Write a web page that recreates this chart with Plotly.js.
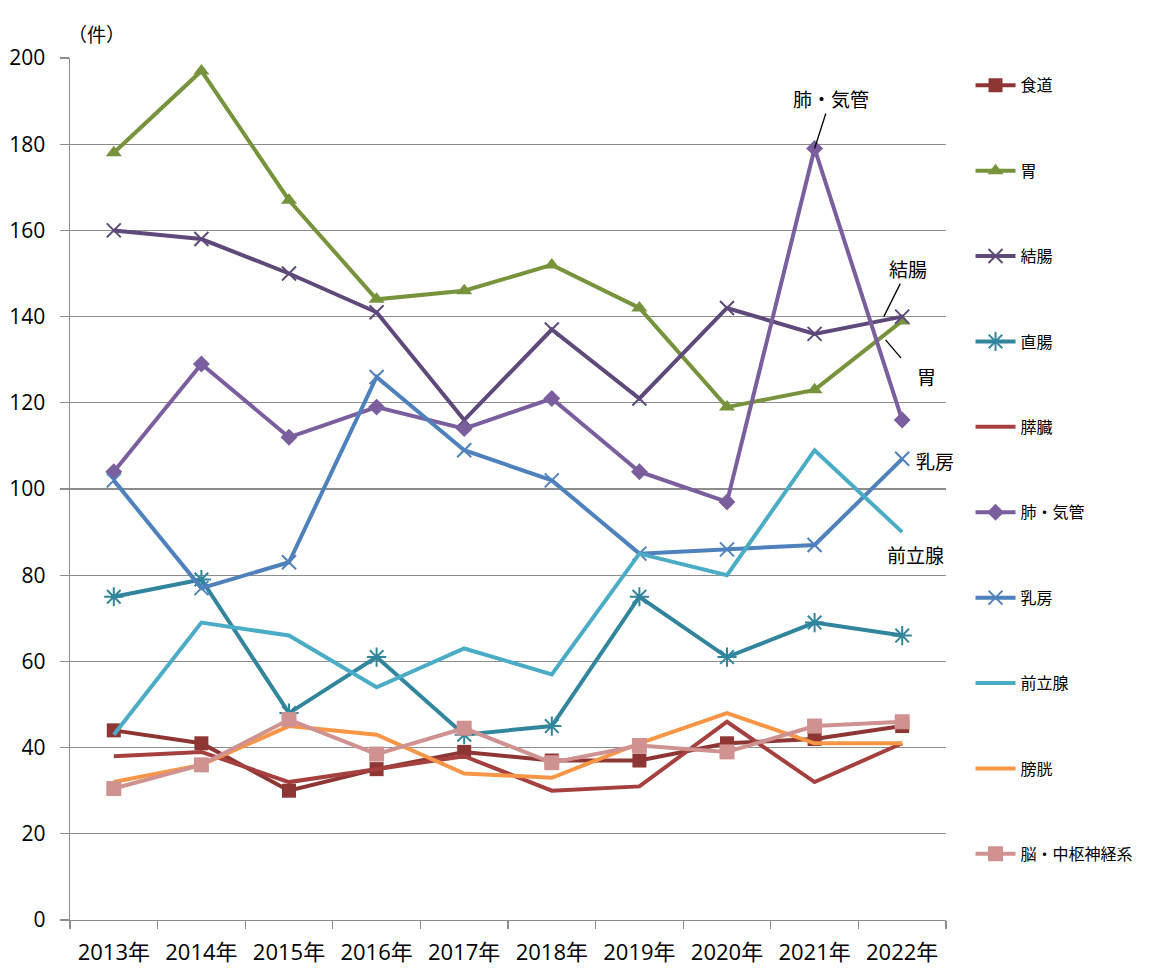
<!DOCTYPE html>
<html>
<head>
<meta charset="utf-8">
<script src="https://cdn.plot.ly/plotly-3.0.1.min.js"></script>
<style>html,body{margin:0;padding:0;background:#fff;}#chart{width:1156px;height:969px;}</style>
</head>
<body>
<div id="chart"></div>
<script>
const years = ["2013年","2014年","2015年","2016年","2017年","2018年","2019年","2020年","2021年","2022年"];

const shokudo   = [44, 41, 30, 35, 39, 37, 37, 41, 42, 45];
const i_stomach = [178, 197, 167, 144, 146, 152, 142, 119, 123, 139];
const ketcho    = [160, 158, 150, 141, 116, 137, 121, 142, 136, 140];
const chokucho  = [75, 79, 48, 61, 43, 45, 75, 61, 69, 66];
const suizo     = [38, 39, 32, 35, 38, 30, 31, 46, 32, 41];
const hai       = [104, 129, 112, 119, 114, 121, 104, 97, 179, 116];
const nyubo     = [102, 77, 83, 126, 109, 102, 85, 86, 87, 107];
const zenritsu  = [43, 69, 66, 54, 63, 57, 85, 80, 109, 90];
const boko      = [32, 36, 45, 43, 34, 33, 41, 48, 41, 41];
const nou       = [30.5, 36, 46.5, 38.5, 44.5, 36.5, 40.5, 39, 45, 46];

const names = ["食道","胃","結腸","直腸","膵臓","肺・気管","乳房","前立腺","膀胱","脳・中枢神経系"];
const yTicks = [0,20,40,60,80,100,120,140,160,180,200];

const FONT = "'Open Sans', 'Noto Sans CJK JP', sans-serif";
const JFONT = "'Noto Sans CJK JP', 'Open Sans', sans-serif";

function tr(name, y, color, symbol, size, open, grp) {
  const t = {
    type: "scatter", x: years, y: y, name: name,
    legendgroup: grp,
    line: {color: color, width: 4},
    cliponaxis: false
  };
  if (symbol) {
    t.mode = "lines+markers";
    t.marker = open
      ? {symbol: symbol, size: size, color: color, line: {color: color, width: 2}}
      : {symbol: symbol, size: size, color: color, line: {width: 0}};
  } else {
    t.mode = "lines";
  }
  return t;
}

const data = [
  tr(names[0], shokudo,   "#8E3634", "square", 14, false, "g0"),
  tr(names[1], i_stomach, "#77933C", "triangle-up", 14, false, "g1"),
  tr(names[2], ketcho,    "#5F497A", "x-thin-open", 14, true, "g2"),
  tr(names[3], chokucho,  "#31859C", "asterisk-open", 16, true, "g3"),
  tr(names[4], suizo,     "#A5403E", null, 0, false, "g4"),
  tr(names[5], hai,       "#7B5E9E", "diamond", 13, false, "g5"),
  tr(names[6], nyubo,     "#4F81BD", "x-thin-open", 14, true, "g6"),
  tr(names[7], zenritsu,  "#4BACC6", null, 0, false, "g7"),
  tr(names[8], boko,      "#F79646", null, 0, false, "g8"),
  tr(names[9], nou,       "#D09290", "square", 15, false, "g9")
];

const annFont = {family: JFONT, size: 19, color: "#000"};

const layout = {
  width: 1156, height: 969,
  margin: {l: 70, r: 210, t: 58, b: 49, pad: 0},
  paper_bgcolor: "#fff", plot_bgcolor: "#fff",
  showlegend: true,
  legend: {
    x: 1.028, xanchor: "left", y: 0.988, yanchor: "top",
    font: {family: JFONT, size: 16, color: "#000"},
    tracegroupgap: 61.6, itemwidth: 40,
    bgcolor: "rgba(0,0,0,0)"
  },
  xaxis: {
    type: "category", range: [-0.5, 9.5], fixedrange: true,
    showline: true, linecolor: "#8c8c8c", linewidth: 1.4,
    ticks: "outside", tickson: "boundaries", ticklen: 8, tickcolor: "#8c8c8c", tickwidth: 1.4,
    showgrid: false, zeroline: false,
    ticklabelstandoff: 12,
    tickfont: {family: FONT, size: 22, color: "#000"}
  },
  yaxis: {
    range: [0, 200], tickvals: yTicks, ticktext: yTicks.map(String), fixedrange: true,
    showline: true, linecolor: "#8c8c8c", linewidth: 1.4,
    ticks: "outside", ticklen: 9, tickcolor: "#8c8c8c", tickwidth: 1.4,
    showgrid: true, gridcolor: "#8c8c8c", gridwidth: 1.4, zeroline: false,
    ticklabelstandoff: 10,
    tickfont: {family: FONT, size: 21, color: "#000"}
  },
  annotations: [
    {xref: "paper", yref: "paper", x: -0.005, y: 1.046, text: "（件）", showarrow: false,
     font: {family: JFONT, size: 19, color: "#000"}},
    {x: 8, y: 179, text: "肺・気管", showarrow: true, arrowhead: 0, arrowwidth: 1.3, arrowcolor: "#000",
     ax: 16, ay: -50, font: annFont},
    {x: 8.79, y: 140, text: "結腸", showarrow: true, arrowhead: 0, arrowwidth: 1.3, arrowcolor: "#000",
     ax: 24, ay: -48, font: annFont},
    {x: 8.81, y: 134.6, text: " ", showarrow: true, arrowhead: 0, arrowwidth: 1.3, arrowcolor: "#000",
     ax: 17, ay: 20, font: {size: 1}},
    {x: 9.28, y: 126, text: "胃", showarrow: false, font: annFont},
    {x: 9.37, y: 106.7, text: "乳房", showarrow: false, font: annFont},
    {x: 9.15, y: 84.7, text: "前立腺", showarrow: false, font: annFont}
  ]
};

Plotly.newPlot("chart", data, layout, {displayModeBar: false, staticPlot: true});
</script>
</body>
</html>
